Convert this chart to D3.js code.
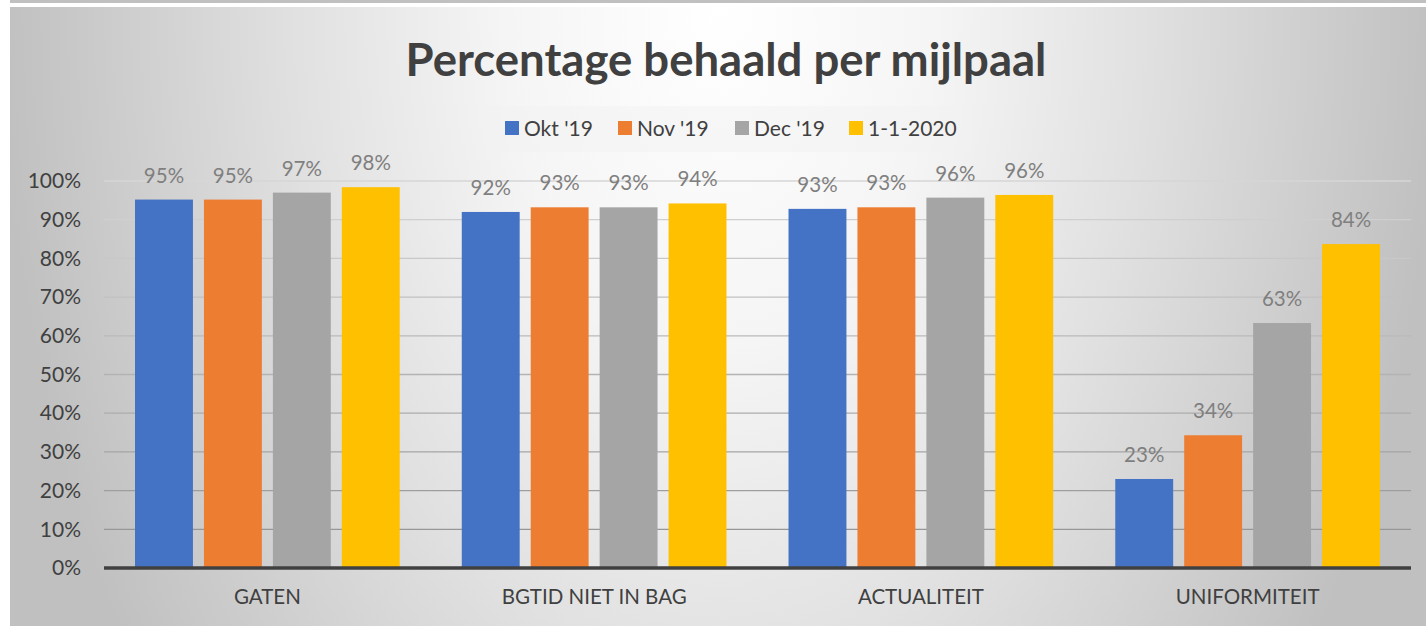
<!DOCTYPE html>
<html>
<head>
<meta charset="utf-8">
<script src="https://cdn.jsdelivr.net/npm/d3@7"></script>
<style>
  html, body { margin: 0; padding: 0; background: #fff; }
  svg { display: block; font-family: Lato, "Open Sans", sans-serif; }
</style>
</head>
<body>
<svg width="1426" height="626"></svg>
<script>
// chart values
var categories = ["GATEN", "BGTID NIET IN BAG", "ACTUALITEIT", "UNIFORMITEIT"];
var seriesNames = ["Okt '19", "Nov '19", "Dec '19", "1-1-2020"];
var okt19 = [0.952, 0.920, 0.928, 0.230];
var nov19 = [0.952, 0.932, 0.932, 0.343];
var dec19 = [0.970, 0.932, 0.957, 0.633];
var jan20 = [0.984, 0.942, 0.964, 0.837];
var yTicks = [0, 0.1, 0.2, 0.3, 0.4, 0.5, 0.6, 0.7, 0.8, 0.9, 1];

var colors = ["#4472c4", "#ed7d31", "#a5a5a5", "#ffc000"];
var seriesValues = [okt19, nov19, dec19, jan20];

const plotLeft = 104, plotRight = 1411, plotTop = 181, plotBottom = 568;

window.onload = function() {
    var svg = d3.select("svg");
    var fmt = d3.format(".0%");

    // background gradient: light at top centre, grey towards the sides
    var defs = svg.append("defs");
    var grad = defs.append("radialGradient")
        .attr("id", "bg")
        .attr("gradientUnits", "userSpaceOnUse")
        .attr("cx", 720).attr("cy", 0).attr("r", 720)
        .attr("fx", 720).attr("fy", 0)
        .attr("gradientTransform", "translate(720,0) scale(1,1.6) translate(-720,0)");
    grad.append("stop").attr("offset", "0%").attr("stop-color", "#ffffff");
    grad.append("stop").attr("offset", "30%").attr("stop-color", "#f5f5f5");
    grad.append("stop").attr("offset", "60%").attr("stop-color", "#e0e0e0");
    grad.append("stop").attr("offset", "100%").attr("stop-color", "#c0c0c0");

    svg.append("rect").attr("x", 10).attr("y", 0).attr("width", 1416).attr("height", 3)
        .attr("fill", "#c0c0c0");
    svg.append("rect").attr("x", 10).attr("y", 7).attr("width", 1416).attr("height", 619)
        .attr("fill", "url(#bg)");

    // title
    var title = svg.append("text")
        .attr("x", 726).attr("y", 76)
        .attr("text-anchor", "middle")
        .attr("font-weight", "bold")
        .attr("font-size", 42)
        .attr("fill", "#404040")
        .text("Percentage behaald per mijlpaal");
    var tw = title.node().getComputedTextLength();
    title.attr("font-size", 42 * 641 / tw);

    // legend
    svg.append("rect").attr("x", 481).attr("y", 106).attr("width", 490).attr("height", 46)
        .attr("fill", "#f2f2f2").attr("opacity", 0.5);
    var legendX = [505, 618, 735, 849];
    var legend = svg.selectAll("g.legend")
        .data(seriesNames)
        .enter().append("g")
        .attr("class", "legend")
        .attr("transform", function(d, i) { return "translate(" + legendX[i] + ",121)"; });
    legend.append("rect")
        .attr("width", 14).attr("height", 14)
        .attr("fill", function(d, i) { return colors[i]; });
    legend.append("text")
        .attr("x", 19).attr("y", 15)
        .attr("font-size", 21)
        .attr("fill", "#404040")
        .text(function(d) { return d; });

    // scales
    var x0 = d3.scaleBand().domain(categories).range([plotLeft, plotRight]);
    var x1 = d3.scaleBand().domain(seriesNames).range([0, x0.bandwidth()])
        .paddingInner(0.16).paddingOuter(0.45);
    var y = d3.scaleLinear().domain([0, 1]).range([plotBottom, plotTop]);

    // gridlines, fainter towards the top
    var gridColor = d3.scaleLinear().domain([0.1, 1]).range(["#979797", "#d6d6d6"]);
    svg.append("g").selectAll("line")
        .data(yTicks.slice(1))
        .enter().append("line")
        .attr("x1", plotLeft).attr("x2", plotRight)
        .attr("y1", function(d) { return y(d); })
        .attr("y2", function(d) { return y(d); })
        .attr("stroke", function(d) { return gridColor(d); })
        .attr("stroke-width", 1.3);

    // y axis labels
    var yAxis = svg.append("g")
        .attr("transform", "translate(" + plotLeft + ",0)")
        .call(d3.axisLeft(y).tickValues(yTicks).tickFormat(fmt).tickSize(0).tickPadding(23));
    yAxis.select(".domain").remove();
    yAxis.selectAll("text")
        .attr("font-family", "Lato, 'Open Sans', sans-serif")
        .attr("font-size", 21)
        .attr("fill", "#404040");

    // bars
    var rows = categories.map(function(c, i) {
        return seriesNames.map(function(s, j) { return { cat: c, key: s, idx: j, value: seriesValues[j][i] }; });
    });
    var groups = svg.append("g").selectAll("g")
        .data(rows)
        .enter().append("g")
        .attr("transform", function(d) { return "translate(" + x0(d[0].cat) + ",0)"; });

    groups.selectAll("rect")
        .data(function(d) { return d; })
        .enter().append("rect")
        .attr("x", function(d) { return x1(d.key); })
        .attr("y", function(d) { return y(d.value); })
        .attr("width", x1.bandwidth())
        .attr("height", function(d) { return plotBottom - y(d.value); })
        .attr("fill", function(d) { return colors[d.idx]; });

    groups.selectAll("text")
        .data(function(d) { return d; })
        .enter().append("text")
        .attr("x", function(d) { return x1(d.key) + x1.bandwidth() / 2; })
        .attr("y", function(d) { return y(d.value) - 17; })
        .attr("text-anchor", "middle")
        .attr("font-size", 20.5)
        .attr("fill", "#7f7f7f")
        .text(function(d) { return fmt(d.value); });

    // baseline
    svg.append("line")
        .attr("x1", plotLeft).attr("x2", plotRight)
        .attr("y1", plotBottom).attr("y2", plotBottom)
        .attr("stroke", "#404040").attr("stroke-width", 3.5);

    // category axis
    var xAxis = svg.append("g")
        .attr("transform", "translate(0," + plotBottom + ")")
        .call(d3.axisBottom(x0).tickSize(0).tickPadding(21));
    xAxis.select(".domain").remove();
    xAxis.selectAll("text")
        .attr("font-family", "Lato, 'Open Sans', sans-serif")
        .attr("font-size", 20.5)
        .attr("fill", "#404040");
}
</script>
</body>
</html>
